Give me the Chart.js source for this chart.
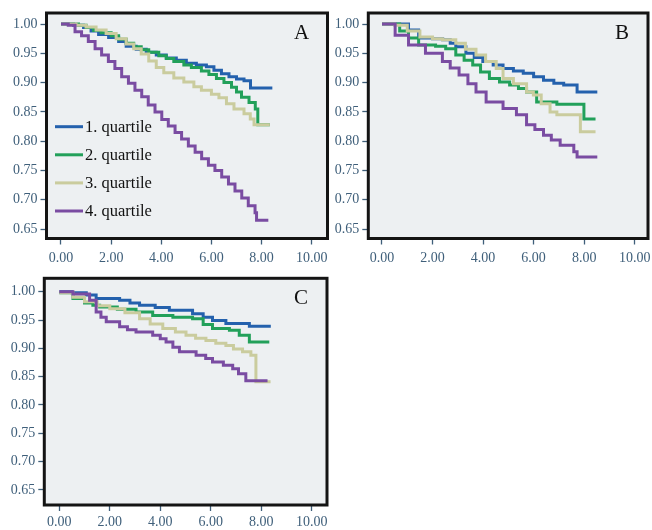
<!DOCTYPE html>
<html>
<head>
<meta charset="utf-8">
<script src="https://cdn.jsdelivr.net/npm/chart.js@4.4.1/dist/chart.umd.min.js"></script>
<style>
body { margin: 0; background: #fff; }
#wrap { position: relative; width: 652px; height: 530px; overflow: hidden; background: #fff; }
#wrap canvas { position: absolute; }
</style>
</head>
<body>
<div id="wrap">
  <canvas id="chart_a" width="320" height="265" style="left:10px;top:0"></canvas>
  <canvas id="chart_b" width="322" height="265" style="left:330px;top:0"></canvas>
  <canvas id="chart_c" width="320" height="265" style="left:10px;top:265px"></canvas>
</div>
<script>
// tick values shared by all three panels
const x_ticks = [0, 2, 4, 6, 8, 10];
const y_ticks = [0.65, 0.70, 0.75, 0.80, 0.85, 0.90, 0.95, 1.00];
const series_names = ['1. quartile', '2. quartile', '3. quartile', '4. quartile'];

// panel A, [time, survival]
const a_q1 = [[0,1.000],[0.5,0.998],[0.9,0.994],[1.2,0.988],[1.5,0.982],[1.9,0.977],[2.3,0.970],[2.6,0.962],[3.0,0.957],[3.4,0.952],[3.8,0.947],[4.2,0.942],[4.6,0.938],[5.0,0.933],[5.4,0.930],[5.8,0.927],[6.1,0.921],[6.4,0.915],[6.7,0.910],[7.0,0.906],[7.3,0.903],[7.56,0.891],[8.43,0.891]];
const a_q2 = [[0,1.000],[0.7,0.998],[1.0,0.994],[1.3,0.989],[1.6,0.985],[2.0,0.980],[2.3,0.974],[2.6,0.967],[2.9,0.961],[3.2,0.956],[3.5,0.952],[3.9,0.946],[4.2,0.941],[4.5,0.936],[4.9,0.930],[5.2,0.926],[5.6,0.920],[5.9,0.914],[6.2,0.907],[6.5,0.900],[6.8,0.892],[7.0,0.884],[7.2,0.875],[7.5,0.866],[7.75,0.855],[7.85,0.828],[8.33,0.828]];
const a_q3 = [[0,1.000],[0.6,0.998],[1.0,0.995],[1.4,0.990],[1.8,0.984],[2.2,0.975],[2.6,0.966],[2.9,0.958],[3.2,0.949],[3.5,0.937],[3.8,0.926],[4.1,0.917],[4.5,0.908],[4.9,0.901],[5.3,0.893],[5.6,0.887],[6.0,0.880],[6.3,0.874],[6.6,0.864],[6.9,0.855],[7.3,0.847],[7.55,0.838],[7.7,0.828],[8.33,0.828]];
const a_q4 = [[0,1.000],[0.29,0.998],[0.56,0.987],[0.82,0.980],[1.09,0.970],[1.36,0.958],[1.62,0.947],[1.89,0.936],[2.15,0.924],[2.42,0.910],[2.69,0.899],[2.95,0.887],[3.22,0.876],[3.48,0.862],[3.75,0.850],[4.02,0.837],[4.28,0.826],[4.55,0.815],[4.81,0.804],[5.08,0.792],[5.35,0.781],[5.61,0.770],[5.88,0.759],[6.14,0.750],[6.41,0.739],[6.68,0.727],[6.94,0.715],[7.21,0.703],[7.47,0.690],[7.74,0.678],[7.80,0.665],[8.27,0.665]];

// panel B
const b_q1 = [[0,1.000],[0.9,1.000],[1.05,0.990],[1.45,0.976],[2.0,0.975],[2.4,0.973],[2.7,0.967],[2.92,0.961],[3.32,0.950],[3.65,0.943],[3.99,0.936],[4.4,0.930],[4.79,0.924],[5.2,0.920],[5.59,0.916],[6.0,0.910],[6.39,0.904],[6.8,0.899],[7.19,0.896],[7.72,0.884],[8.52,0.884]];
const b_q2 = [[0,1.000],[0.32,1.000],[0.7,0.988],[1.05,0.976],[1.45,0.964],[2.12,0.962],[2.52,0.958],[2.92,0.947],[3.25,0.938],[3.59,0.930],[3.9,0.918],[4.25,0.907],[4.65,0.901],[5.05,0.896],[5.4,0.890],[5.72,0.884],[6.12,0.867],[6.92,0.863],[7.99,0.838],[8.45,0.838]];
const b_q3 = [[0,1.000],[0.5,0.998],[1.0,0.988],[1.5,0.978],[2.0,0.975],[2.39,0.973],[2.92,0.967],[3.3,0.957],[3.72,0.947],[4.1,0.936],[4.52,0.924],[4.79,0.907],[5.2,0.898],[5.72,0.884],[5.99,0.879],[6.3,0.864],[6.65,0.850],[6.92,0.845],[7.85,0.816],[8.45,0.816]];
const b_q4 = [[0,1.000],[0.52,0.981],[1.05,0.964],[1.72,0.950],[2.39,0.936],[2.7,0.925],[3.05,0.913],[3.4,0.898],[3.72,0.884],[4.12,0.867],[4.79,0.856],[5.32,0.845],[5.72,0.828],[6.05,0.820],[6.39,0.810],[6.7,0.802],[7.05,0.793],[7.59,0.782],[7.72,0.773],[8.52,0.773]];

// panel C
const c_q1 = [[0,1.000],[0.5,0.998],[1.07,0.994],[1.46,0.988],[2.39,0.985],[2.8,0.980],[3.18,0.976],[3.8,0.972],[4.36,0.967],[5.28,0.961],[5.7,0.955],[6.07,0.949],[6.6,0.944],[7.53,0.939],[8.38,0.939]];
const c_q2 = [[0,0.998],[0.54,0.988],[1.0,0.980],[1.33,0.976],[1.6,0.973],[2.3,0.969],[3.04,0.964],[3.7,0.958],[4.5,0.955],[5.28,0.952],[5.7,0.942],[6.07,0.935],[6.74,0.932],[7.13,0.923],[7.53,0.911],[8.32,0.911]];
const c_q3 = [[0,0.998],[0.54,0.990],[1.0,0.982],[1.5,0.975],[2.0,0.970],[2.6,0.963],[3.18,0.952],[3.6,0.943],[4.1,0.935],[4.6,0.929],[5.02,0.923],[5.4,0.918],[5.81,0.914],[6.2,0.909],[6.6,0.905],[6.9,0.899],[7.26,0.894],[7.59,0.888],[7.79,0.841],[8.37,0.841]];
const c_q4 = [[0,1.000],[0.54,0.996],[1.2,0.985],[1.46,0.964],[1.65,0.955],[1.86,0.947],[2.39,0.938],[2.7,0.933],[3.04,0.929],[3.7,0.923],[4.0,0.917],[4.23,0.911],[4.5,0.902],[4.76,0.894],[5.42,0.888],[5.8,0.882],[6.07,0.876],[6.5,0.870],[6.87,0.864],[7.1,0.855],[7.39,0.843],[8.25,0.843]];

const line_colors = ['#2461ad', '#22a05a', '#cacc9e', '#7a4ca2'];
const tick_color = '#3f5f7a';
const plot_bg = '#edf0f2';
const serif = '"Liberation Serif", "Times New Roman", serif';

Chart.defaults.font.family = serif;

// background, black frame, panel letter and (panel A only) legend
const panelDecor = {
    id: 'panelDecor',
    beforeDraw(chart, args, opts) {
        let a = chart.chartArea, ctx = chart.ctx;
        ctx.save();
        ctx.fillStyle = plot_bg;
        ctx.fillRect(a.left, a.top, a.right - a.left, a.bottom - a.top);
        ctx.restore();
    },
    afterDraw(chart, args, opts) {
        let a = chart.chartArea, ctx = chart.ctx;
        ctx.save();
        ctx.strokeStyle = '#141414';
        ctx.lineWidth = 3;
        ctx.strokeRect(a.left, a.top, a.right - a.left, a.bottom - a.top);

        ctx.fillStyle = '#111';
        ctx.font = '21px ' + serif;
        ctx.textAlign = 'center';
        ctx.textBaseline = 'middle';
        ctx.fillText(opts.letter, a.right - 26, a.top + 20);

        if (opts.legend) {
            ctx.font = '16.5px ' + serif;
            ctx.textAlign = 'left';
            series_names.forEach(function (name, i) {
                let y = opts.legend.y + i * opts.legend.gap;
                ctx.strokeStyle = line_colors[i];
                ctx.lineWidth = 3;
                ctx.beginPath();
                ctx.moveTo(opts.legend.x, y);
                ctx.lineTo(opts.legend.x + 28, y);
                ctx.stroke();
                ctx.fillStyle = '#111';
                ctx.fillText(name, opts.legend.x + 30, y + 1);
            });
        }
        ctx.restore();
    }
};

function make_panel(id, series, box, letter, legend) {
    let ctx = document.getElementById(id).getContext('2d');
    // quartile 1 is drawn last so it sits on top, as in the original
    let datasets = series.map(function (s, i) {
        return {
            label: series_names[i],
            data: s.map(function (p) { return { x: p[0], y: p[1] }; }),
            borderColor: line_colors[i],
            borderWidth: 3,
            stepped: true,
            pointRadius: 0,
            fill: false
        };
    }).reverse();
    return new Chart(ctx, {
        type: 'line',
        data: { datasets: datasets },
        options: {
            responsive: false,
            animation: false,
            layout: { padding: { top: box.top, right: box.right, bottom: 0, left: 0 } },
            plugins: {
                legend: { display: false },
                tooltip: { enabled: false },
                panelDecor: { letter: letter, legend: legend }
            },
            scales: {
                x: {
                    type: 'linear',
                    min: box.xmin,
                    max: box.xmax,
                    afterBuildTicks: function (s) { s.ticks = x_ticks.map(function (v) { return { value: v }; }); },
                    afterFit: function (s) { s.height = box.xh; s.paddingLeft = 0; s.paddingRight = 0; },
                    ticks: {
                        callback: function (v) { return Number(v).toFixed(2); },
                        color: tick_color,
                        font: { size: 14 },
                        padding: box.xpad,
                        maxRotation: 0
                    },
                    grid: { drawOnChartArea: false, drawTicks: true, tickLength: 6, tickColor: tick_color, tickWidth: 1.3 },
                    border: { display: false }
                },
                y: {
                    type: 'linear',
                    min: box.ymin,
                    max: box.ymax,
                    afterBuildTicks: function (s) { s.ticks = y_ticks.map(function (v) { return { value: v }; }); },
                    afterFit: function (s) { s.width = box.yw; s.paddingTop = 0; s.paddingBottom = 0; },
                    ticks: {
                        callback: function (v) { return Number(v).toFixed(2); },
                        color: tick_color,
                        font: { size: 14 },
                        padding: 3
                    },
                    grid: { drawOnChartArea: false, drawTicks: true, tickLength: 6, tickColor: tick_color, tickWidth: 1.3 },
                    border: { display: false }
                }
            }
        },
        plugins: [panelDecor]
    });
}

const legend_a = { x: 45, y: 126.7, gap: 28.1 };
const chartA = make_panel('chart_a', [a_q1, a_q2, a_q3, a_q4],
    { top: 13, right: 2.5, yw: 36.5, xh: 26.5, xpad: 5, xmin: -0.578, xmax: 10.63, ymin: 0.634, ymax: 1.0188 }, 'A', legend_a);
const chartB = make_panel('chart_b', [b_q1, b_q2, b_q3, b_q4],
    { top: 13, right: 4, yw: 38.3, xh: 26.5, xpad: 5, xmin: -0.542, xmax: 10.526, ymin: 0.634, ymax: 1.0188 }, 'B', null);
const chartC = make_panel('chart_c', [c_q1, c_q2, c_q3, c_q4],
    { top: 13.3, right: 3, yw: 34.3, xh: 25, xpad: 3, xmin: -0.594, xmax: 10.606, ymin: 0.6235, ymax: 1.0236 }, 'C', null);
</script>
</body>
</html>
